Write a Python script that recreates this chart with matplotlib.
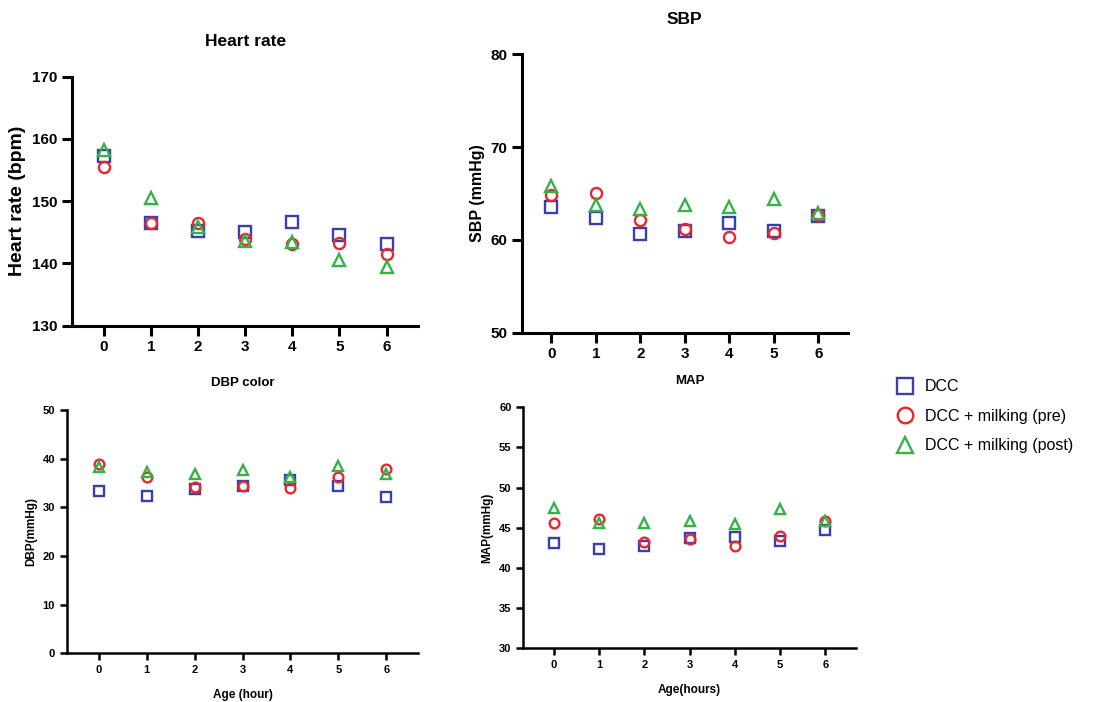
import numpy as np
import matplotlib
matplotlib.use('Agg')
import matplotlib.pyplot as plt

plt.rcParams['font.family'] = ['Liberation Sans', 'DejaVu Sans']

# hours after birth
hours = [0, 1, 2, 3, 4, 5, 6]

# heart rate (bpm)
hr_dcc = [157.2, 146.5, 145.2, 145.0, 146.6, 144.6, 143.2]
hr_pre = [155.5, 146.5, 146.5, 143.9, 143.1, 143.3, 141.6]
hr_post = [158.3, 150.5, 145.9, 143.6, 143.5, 140.6, 139.5]

# SBP (mmHg)
sbp_dcc = [63.6, 62.4, 60.6, 61.0, 61.8, 61.0, 62.6]
sbp_pre = [64.8, 65.1, 62.2, 61.2, 60.3, 60.8, 62.7]
sbp_post = [65.8, 63.8, 63.3, 63.8, 63.6, 64.4, 62.9]

# DBP (mmHg)
dbp_dcc = [33.3, 32.4, 33.8, 34.4, 35.6, 34.4, 32.2]
dbp_pre = [38.9, 36.3, 34.2, 34.4, 33.9, 36.2, 37.8]
dbp_post = [38.3, 37.3, 36.9, 37.7, 36.2, 38.5, 36.8]

# MAP (mmHg)
map_dcc = [43.1, 42.3, 42.7, 43.7, 43.9, 43.4, 44.7]
map_pre = [45.6, 46.1, 43.2, 43.6, 42.7, 44.0, 45.9]
map_post = [47.5, 45.6, 45.6, 45.9, 45.5, 47.3, 45.8]

groups = ['DCC', 'DCC + milking (pre)', 'DCC + milking (post)']
colors = ['#3a3fae', '#e8272d', '#35b24a']
markers = ['s', 'o', '^']

fig = plt.figure(figsize=(11.06, 7.02), dpi=100)

panels = [
    # position, data, ylim, yticks, title, ylabel, xlabel, big style
    ([0.0651, 0.536, 0.313, 0.3547], (hr_dcc, hr_pre, hr_post), (130, 170), np.arange(130, 171, 10),
     'Heart rate', 'Heart rate (bpm)', '', True),
    ([0.4717, 0.526, 0.295, 0.3966], (sbp_dcc, sbp_pre, sbp_post), (50, 80), np.arange(50, 81, 10),
     'SBP', 'SBP (mmHg)', '', True),
    ([0.0603, 0.0694, 0.318, 0.3466], (dbp_dcc, dbp_pre, dbp_post), (0, 50), np.arange(0, 51, 10),
     'DBP color', 'DBP(mmHg)', 'Age (hour)', False),
    ([0.4732, 0.0765, 0.3005, 0.3433], (map_dcc, map_pre, map_post), (30, 60), np.arange(30, 61, 5),
     'MAP', 'MAP(mmHg)', 'Age(hours)', False),
]

handles = []
for pos, data, ylim, yticks, title, ylabel, xlabel, big in panels:
    ax = fig.add_axes(pos)
    ms = 8 if big else 7
    for vals, c, m, g in zip(data, colors, markers, groups):
        h, = ax.plot(hours, vals, linestyle='none', marker=m, markersize=ms,
                     markerfacecolor='none', markeredgecolor=c, markeredgewidth=1.7, label=g)
        if len(handles) < 3:
            handles.append(h)
    ax.set_xlim(-0.67, 6.67)
    ax.set_ylim(*ylim)
    ax.set_yticks(yticks)
    ax.set_xticks(hours)
    ax.spines['top'].set_visible(False)
    ax.spines['right'].set_visible(False)
    lw = 2.2 if big else 1.8
    ax.spines['left'].set_linewidth(lw)
    ax.spines['bottom'].set_linewidth(lw)
    tick_fs = 11 if big else 8
    ax.tick_params(width=lw, length=7 if big else 5, labelsize=tick_fs)
    for lab in ax.get_xticklabels() + ax.get_yticklabels():
        lab.set_fontweight('bold')
    ax.set_title(title, fontsize=12.5 if big else 9.5, fontweight='bold', pad=22 if big else 17)
    ax.set_ylabel(ylabel, fontsize=14 if big and title == 'Heart rate' else (11.5 if big else 8.5),
                  fontweight='bold')
    if xlabel:
        ax.set_xlabel(xlabel, fontsize=8.5, fontweight='bold', labelpad=10)

fig.legend(handles=handles, loc='upper left', bbox_to_anchor=(0.797, 0.48), frameon=False,
           fontsize=11.5, markerscale=1.4, handletextpad=0.6, labelspacing=0.9, handlelength=1.2)

plt.savefig('out.png', dpi=100)
